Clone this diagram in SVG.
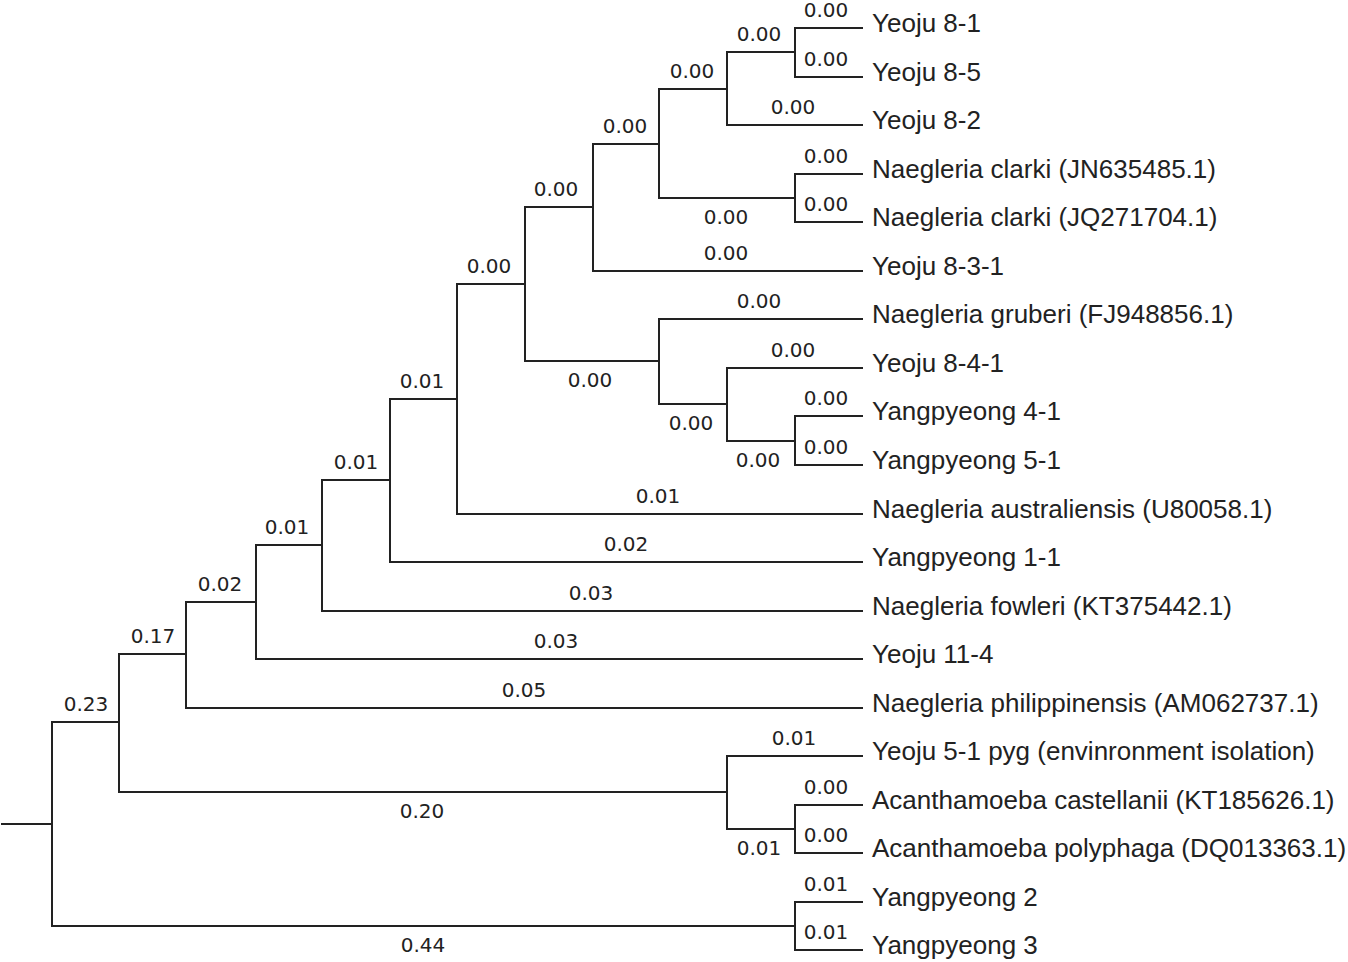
<svg xmlns="http://www.w3.org/2000/svg" width="1348" height="962" viewBox="0 0 1348 962">
<style>
.e{fill:none;stroke:#222;stroke-width:2;stroke-linecap:square}
.b{font-family:"DejaVu Sans",Verdana,sans-serif;font-size:20px;fill:#222;text-anchor:middle}
.t{font-family:"Liberation Sans",Arial,sans-serif;font-size:26px;fill:#222}
</style>
<rect width="1348" height="962" fill="#fff"/>
<g id="connectors">
<path class="e" d="M2 824H52M52 722V926M52 722H119M119 654V792M52 926H795M795 902V950M795 902H862M795 950H862"/>
<path class="e" d="M119 654H186M186 602V708M119 792H727M727 756V829M727 756H862M727 829H795M795 805V853M795 805H862M795 853H862"/>
<path class="e" d="M186 602H256M256 545V659M186 708H862M256 545H322M322 480V611M256 659H862M322 480H390M390 399V562M322 611H862"/>
<path class="e" d="M390 399H457M457 284V514M390 562H862M457 284H525M525 207V361M457 514H862"/>
<path class="e" d="M525 207H593M593 144V271M525 361H659M659 319V404M593 271H862M593 144H659M659 89V198M659 89H727M727 52V125M659 198H795M795 174V222M727 52H795M795 28V77"/>
<path class="e" d="M795 28H862M795 77H862M727 125H862M795 174H862M795 222H862M659 319H862M659 404H727M727 368V441M727 368H862M727 441H795M795 416V465M795 416H862M795 465H862"/>
</g>
<g id="branch-labels">
<text class="b" x="826" y="17">0.00</text>
<text class="b" x="826" y="66">0.00</text>
<text class="b" x="759" y="41">0.00</text>
<text class="b" x="793" y="114">0.00</text>
<text class="b" x="692" y="78">0.00</text>
<text class="b" x="826" y="163">0.00</text>
<text class="b" x="826" y="211">0.00</text>
<text class="b" x="726" y="224">0.00</text>
<text class="b" x="625" y="133">0.00</text>
<text class="b" x="726" y="260">0.00</text>
<text class="b" x="556" y="196">0.00</text>
<text class="b" x="759" y="308">0.00</text>
<text class="b" x="793" y="357">0.00</text>
<text class="b" x="826" y="405">0.00</text>
<text class="b" x="826" y="454">0.00</text>
<text class="b" x="758" y="467">0.00</text>
<text class="b" x="691" y="430">0.00</text>
<text class="b" x="590" y="387">0.00</text>
<text class="b" x="489" y="273">0.00</text>
<text class="b" x="658" y="503">0.01</text>
<text class="b" x="422" y="388">0.01</text>
<text class="b" x="626" y="551">0.02</text>
<text class="b" x="356" y="469">0.01</text>
<text class="b" x="591" y="600">0.03</text>
<text class="b" x="287" y="534">0.01</text>
<text class="b" x="556" y="648">0.03</text>
<text class="b" x="220" y="591">0.02</text>
<text class="b" x="524" y="697">0.05</text>
<text class="b" x="153" y="643">0.17</text>
<text class="b" x="794" y="745">0.01</text>
<text class="b" x="826" y="794">0.00</text>
<text class="b" x="826" y="842">0.00</text>
<text class="b" x="759" y="855">0.01</text>
<text class="b" x="422" y="818">0.20</text>
<text class="b" x="86" y="711">0.23</text>
<text class="b" x="826" y="891">0.01</text>
<text class="b" x="826" y="939">0.01</text>
<text class="b" x="423" y="952">0.44</text>
</g>
<g id="leaf-yeoju-8-1"><text class="t" x="872" y="32">Yeoju 8-1</text></g>
<g id="leaf-yeoju-8-5"><text class="t" x="872" y="81">Yeoju 8-5</text></g>
<g id="leaf-yeoju-8-2"><text class="t" x="872" y="129">Yeoju 8-2</text></g>
<g id="leaf-clarki-jn"><text class="t" x="872" y="178">Naegleria clarki (JN635485.1)</text></g>
<g id="leaf-clarki-jq"><text class="t" x="872" y="226">Naegleria clarki (JQ271704.1)</text></g>
<g id="leaf-yeoju-8-3-1"><text class="t" x="872" y="275">Yeoju 8-3-1</text></g>
<g id="leaf-gruberi"><text class="t" x="872" y="323">Naegleria gruberi (FJ948856.1)</text></g>
<g id="leaf-yeoju-8-4-1"><text class="t" x="872" y="372">Yeoju 8-4-1</text></g>
<g id="leaf-yangpyeong-4-1"><text class="t" x="872" y="420">Yangpyeong 4-1</text></g>
<g id="leaf-yangpyeong-5-1"><text class="t" x="872" y="469">Yangpyeong 5-1</text></g>
<g id="leaf-australiensis"><text class="t" x="872" y="518">Naegleria australiensis (U80058.1)</text></g>
<g id="leaf-yangpyeong-1-1"><text class="t" x="872" y="566">Yangpyeong 1-1</text></g>
<g id="leaf-fowleri"><text class="t" x="872" y="615">Naegleria fowleri (KT375442.1)</text></g>
<g id="leaf-yeoju-11-4"><text class="t" x="872" y="663">Yeoju 11-4</text></g>
<g id="leaf-philippinensis"><text class="t" x="872" y="712">Naegleria philippinensis (AM062737.1)</text></g>
<g id="leaf-yeoju-5-1-pyg"><text class="t" x="872" y="760">Yeoju 5-1 pyg (envinronment isolation)</text></g>
<g id="leaf-castellanii"><text class="t" x="872" y="809">Acanthamoeba castellanii (KT185626.1)</text></g>
<g id="leaf-polyphaga"><text class="t" x="872" y="857">Acanthamoeba polyphaga (DQ013363.1)</text></g>
<g id="leaf-yangpyeong-2"><text class="t" x="872" y="906">Yangpyeong 2</text></g>
<g id="leaf-yangpyeong-3"><text class="t" x="872" y="954">Yangpyeong 3</text></g>
</svg>
